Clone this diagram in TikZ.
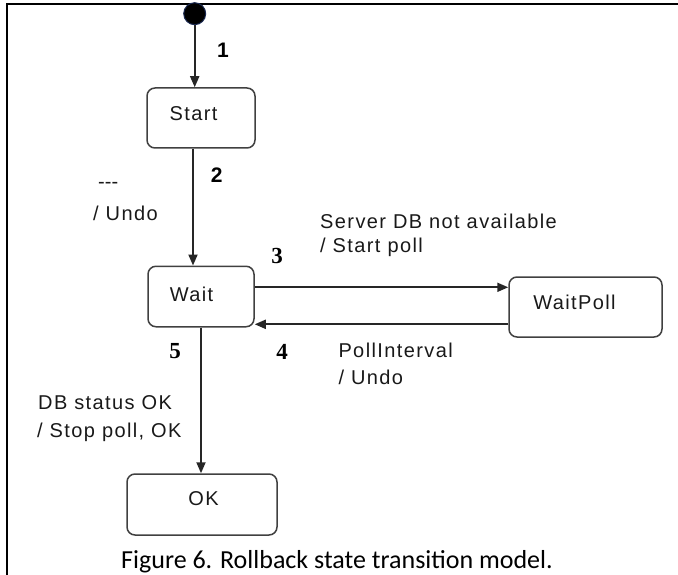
\documentclass[tikz,border=0pt]{standalone}
\usepackage{fontspec}
\setmainfont{Liberation Sans}
\newfontfamily\lblfont[LetterSpace=7]{Liberation Sans}
\newfontfamily\numsans{Liberation Sans}
\newfontfamily\numserif{Liberation Serif}
\newfontfamily\capfont{Carlito}
\usetikzlibrary{arrows.meta}
\begin{document}
\begin{tikzpicture}[x=1bp,y=-1bp,
  state/.style={draw=black!75, line width=1.5bp, rounded corners=8bp, inner sep=0pt},
  boxtxt/.style={font=\lblfont\fontsize{20bp}{24bp}\selectfont, inner sep=0pt, text=black!90},
  conn/.style={draw=black!85, line width=1.9bp, -{Triangle[length=11bp,width=9bp]}},
  lbl/.style={font=\lblfont\fontsize{20bp}{24bp}\selectfont, inner sep=0pt, anchor=base west, text=black!90},
  numA/.style={font=\numsans\bfseries\fontsize{21bp}{24bp}\selectfont, inner sep=0pt},
  numB/.style={font=\numserif\bfseries\fontsize{23bp}{24bp}\selectfont, inner sep=0pt},
]
\useasboundingbox (0,0) rectangle (678,575);

% frame
\draw[line width=2.7bp] (7,575) -- (7,4) -- (678,4);

% initial pseudo-state
\node[circle, fill=black, draw={rgb,255:red,25;green,40;blue,80}, line width=1bp,
      minimum size=22bp, inner sep=0pt] (init) at (194.7,13.7) {};

% states
\node[state, minimum width=108bp, minimum height=60bp,
      label={[boxtxt, xshift=-7.5bp, yshift=4bp]center:Start}] (start) at (201,118) {};
\node[state, minimum width=106bp, minimum height=60.5bp,
      label={[boxtxt, xshift=-9.5bp, yshift=2.5bp]center:Wait}] (wait) at (201,296.5) {};
\node[state, minimum width=153bp, minimum height=60bp,
      label={[boxtxt, xshift=-11bp, yshift=5bp]center:WaitPoll}] (waitpoll) at (585.5,307) {};
\node[state, minimum width=150bp, minimum height=61bp,
      label={[boxtxt, xshift=1.5bp, yshift=5.5bp]center:OK}] (ok) at (202,504.5) {};

% transitions
\draw[conn] (init.south) -- (init.south |- start.north);
\draw[conn] ([xshift=-8bp]start.south) -- ([xshift=-8bp]start.south |- wait.north);
\draw[conn] ([yshift=9.2bp]wait.east) -- ([yshift=9.2bp]wait.east -| waitpoll.west);
\draw[conn] ([yshift=-27.8bp]wait.east -| waitpoll.west) -- ([yshift=-27.8bp]wait.east);
\draw[conn] (wait.south) -- (wait.south |- ok.north);

% transition numbers
\node[numA] (n1) at (223,50) {1};
\node[numA] (n2) at (216.7,175) {2};
\node[numB] (n3) at (277,255.5) {3};
\node[numB] (n4) at (282,352) {4};
\node[numB] (n5) at (175,350.6) {5};

% guards / actions
\node[lbl] (g2a) at (98,188.5) {-\kern0pt-\kern0pt-};
\node[lbl] (g2b) at (93,220) {/ Undo};
\node[lbl] (g3a) at (320,228) {Server DB not available};
\node[lbl] (g3b) at (320,252.3) {/ Start poll};
\node[lbl] (g4a) at (338.3,357.3) {PollInterval};
\node[lbl] (g4b) at (338.3,384) {/ Undo};
\node[lbl] (g5a) at (38,409.3) {DB status OK};
\node[lbl] (g5b) at (37,437.3) {/ Stop poll, OK};

% caption
\node[font=\capfont\fontsize{26bp}{30bp}\selectfont, inner sep=0pt, anchor=base]
  (cap) at (337,568) {Figure 6. Rollback state transition model.};
\end{tikzpicture}
\end{document}
